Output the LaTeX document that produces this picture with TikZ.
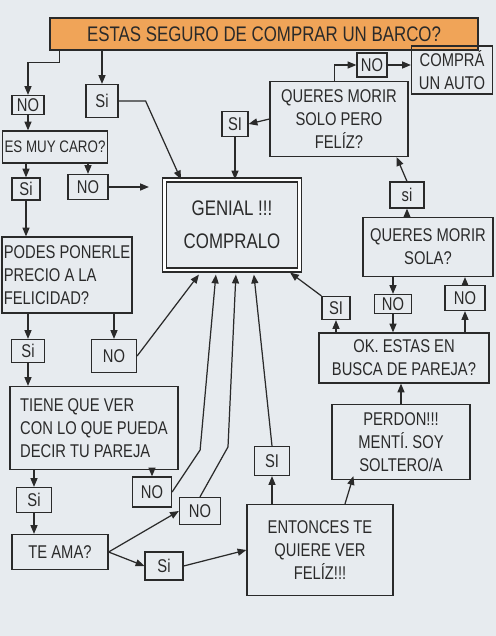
\documentclass[tikz,border=0pt]{standalone}
\usepackage{fontspec}
\setmainfont[FakeStretch=0.8]{Liberation Sans}
\usetikzlibrary{arrows.meta,calc}
\definecolor{paper}{HTML}{E7EBEF}
\definecolor{ink}{HTML}{2A2A2A}
\definecolor{naranjaA}{HTML}{F0A458}
\definecolor{naranjaB}{HTML}{F8CB8E}

\begin{document}
\begin{tikzpicture}[x=0.02cm, y=-0.02cm, line width=0.7pt, color=ink,
    >={Triangle[length=5pt,width=4pt]},
    box/.style={rectangle, draw, inner sep=1pt, align=center, font=\fontsize{10.5}{13}\selectfont},
    resp/.style={rectangle, draw, inner sep=1pt, font=\fontsize{10.5}{12}\selectfont}]
    \useasboundingbox (0,0) rectangle (496,636);
    \fill[paper] (0,0) rectangle (496,636);
    % pregunta inicial
    \node[box, minimum width=8.56cm, minimum height=0.64cm, left color=naranjaA, middle color=naranjaB, right color=naranjaA, font=\fontsize{12}{14}\selectfont] (title) at (264,34) {ESTAS SEGURO DE COMPRAR UN BARCO?};
    \node[resp, minimum width=0.64cm, minimum height=0.38cm] (no1) at (28,105) {NO};
    \node[resp, minimum width=0.64cm, minimum height=0.66cm] (si1) at (102,101) {Si};
    \node[box, minimum width=2.1cm, minimum height=0.64cm, font=\fontsize{9.5}{12}\selectfont] (caro) at (55,147) {ES MUY CARO?};
    \node[resp, minimum width=0.56cm, minimum height=0.44cm] (si2) at (26,189) {Si};
    \node[resp, minimum width=0.8cm, minimum height=0.5cm] (no2) at (88,187) {NO};
    \node[box, minimum width=2.7cm, minimum height=1.8cm, double, double distance=1.6pt, fill=paper, font=\fontsize{12}{19}\selectfont] (genial) at (232,225) {GENIAL !!!\\COMPRALO};
    \node[box, minimum width=2.5cm, minimum height=1.52cm, align=left] (podes) at (67,275) {PODES PONERLE\\PRECIO A LA\\FELICIDAD?};
    \node[resp, minimum width=0.66cm, minimum height=0.46cm] (si3) at (28,351) {Si};
    \node[resp, minimum width=0.9cm, minimum height=0.66cm] (no3) at (114,356) {NO};
    \node[box, minimum width=3.36cm, minimum height=1.66cm, align=left] (tiene) at (94,428) {TIENE QUE VER\\CON LO QUE PUEDA\\DECIR TU PAREJA};
    \node[resp, minimum width=0.7cm, minimum height=0.5cm] (si4) at (34,500) {Si};
    \node[resp, minimum width=0.78cm, minimum height=0.6cm] (no4) at (152,492) {NO};
    \node[box, minimum width=1.92cm, minimum height=0.7cm] (teama) at (60,552) {TE AMA?};
    \node[resp, minimum width=0.82cm, minimum height=0.54cm] (no5) at (200,511) {NO};
    \node[resp, minimum width=0.76cm, minimum height=0.56cm] (si5) at (164,566) {Si};
    \node[box, minimum width=2.92cm, minimum height=1.82cm] (entonces) at (320,550) {ENTONCES TE\\QUIERE VER\\FELÍZ!!!};
    \node[resp, minimum width=0.7cm, minimum height=0.58cm] (si6) at (272,461) {SI};
    \node[box, minimum width=2.76cm, minimum height=1.5cm] (perdon) at (401,442) {PERDON!!!\\MENTÍ. SOY\\SOLTERO/A};
    \node[box, minimum width=3.4cm, minimum height=1.0cm] (ok) at (404,358) {OK. ESTAS EN\\BUSCA DE PAREJA?};
    \node[resp, minimum width=0.56cm, minimum height=0.46cm] (si7) at (336,308) {SI};
    \node[resp, minimum width=0.74cm, minimum height=0.38cm] (no6) at (393,304) {NO};
    \node[resp, minimum width=0.8cm, minimum height=0.5cm] (no7) at (465,298) {NO};
    \node[box, minimum width=2.6cm, minimum height=1.18cm] (sola) at (428,247) {QUERES MORIR\\SOLA?};
    \node[resp, minimum width=0.68cm, minimum height=0.52cm] (si8) at (407,195) {si};
    \node[box, minimum width=2.76cm, minimum height=1.5cm] (solo) at (339,119) {QUERES MORIR\\SOLO PERO\\FELÍZ?};
    \node[resp, minimum width=0.52cm, minimum height=0.5cm] (si9) at (235,124) {SI};
    \node[resp, minimum width=0.6cm, minimum height=0.48cm] (no8) at (372,65) {NO};
    \node[box, minimum width=1.62cm, minimum height=0.96cm] (auto) at (452,70) {COMPRÁ\\UN AUTO};
    % flechas
    \draw[->] ($(title.south west)+(10,0)$) -- ++(0,12) -| (no1.north);
    \draw[->] (title.south -| si1.north) -- (si1.north);
    \draw[->] (si1.east) -- ++(27,0) -- ($(genial.north west)+(17,0)$);
    \draw[->] (no1.south) -- (caro.north -| no1);
    \draw[->] (caro.south -| si2) -- (si2.north);
    \draw[->] (caro.south -| no2) -- (no2.north);
    \draw[->] (no2.east) -- ($(genial.west |- no2.east)+(-15,0)$);
    \draw[->] (si2.south) -- (podes.north -| si2);
    \draw[->] (podes.south -| si3) -- (si3.north);
    \draw[->] (podes.south -| no3) -- (no3.north);
    \draw[->] (no3.east) -- ($(genial.south west)+(35,4)$);
    \draw[->] (si3.south) -- (tiene.north -| si3);
    \draw[->] (tiene.south -| si4) -- (si4.north);
    \draw[->] (tiene.south -| no4) -- (no4.north);
    \draw[->] (no4.east) -- ++(28,-42) -- ($(genial.south west)+(52,4)$);
    \draw[->] (si4.south) -- (teama.north -| si4);
    \draw[->] (teama.east) -- (no5.west);
    \draw[->] (teama.east) -- (si5.west);
    \draw[->] (no5.north) -- ++(28,-50) -- ($(genial.south west)+(72,4)$);
    \draw[->] (si5.east) -- (entonces.west);
    \draw[->] (entonces.north -| si6) -- (si6.south);
    \draw[->] (si6.north) -- ($(genial.south west)+(90,4)$);
    \draw[->] ($(entonces.north)+(25,0)$) -- ($(perdon.south west)+(22,-4)$);
    \draw[->] (perdon.north) -- (ok.south -| perdon.north);
    \draw[->] (ok.north -| si7) -- (si7.south);
    \draw[->] (si7.north west) -- ($(genial.south east)+(-10,2)$);
    \draw[->] (sola.south -| no6) -- (no6.north);
    \draw[->] (no6.south) -- (ok.north -| no6);
    \draw[->] (ok.north -| no7) -- (no7.south);
    \draw[->] (no7.north) -- (sola.south -| no7);
    \draw[->] (sola.north -| si8) -- (si8.south);
    \draw[->] (si8.north) -- ($(solo.south east)+(-12,0)$);
    \draw[->] (solo.west) -- (si9.east);
    \draw[->] (si9.south) -- (genial.north -| si9);
    \draw[->] ($(solo.north west)+(65,0)$) |- (no8.west);
    \draw[->] (no8.east) -- (auto.west |- no8);
\end{tikzpicture}
\end{document}
